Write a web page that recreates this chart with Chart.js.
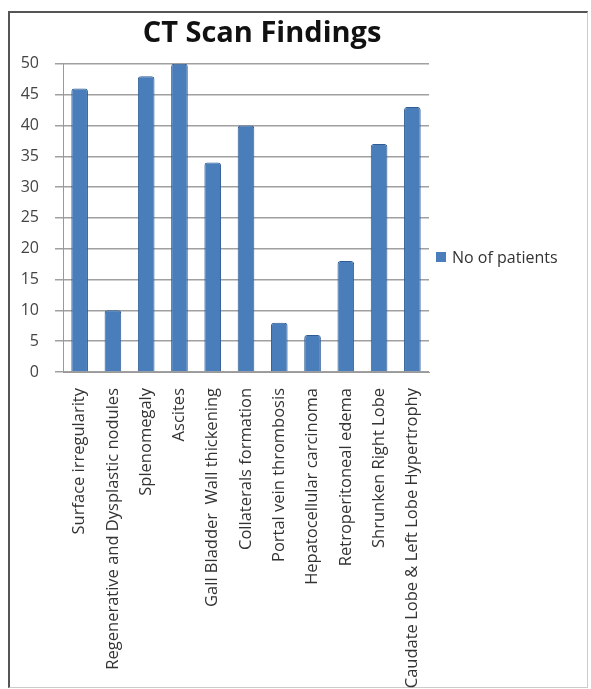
<!DOCTYPE html>
<html>
<head>
<meta charset="utf-8">
<script src="https://cdn.jsdelivr.net/npm/chart.js@4.4.1/dist/chart.umd.min.js"></script>
<style>
    body { margin: 0; background: #fff; width: 591px; height: 689px; overflow: hidden; position: relative; font-family: "Open Sans", sans-serif; }
    #frame {
        position: absolute; left: 8px; top: 11px; width: 577px; height: 674px;
        border-left: 2px solid #555; border-top: 2px solid #555;
        border-right: 1px solid #ccc; border-bottom: 1px solid #ccc;
    }
    #wrap { position: absolute; left: 10px; top: 13px; width: 504px; height: 676px; }
    #legend { position: absolute; left: 436px; top: 246px; font-size: 16px; color: #333; display: flex; align-items: center; }
    #legend span.box { display: inline-block; width: 10px; height: 10px; background: #4a7ebb; margin-right: 6px; }
</style>
</head>
<body>
<div id="frame"></div>
<div id="wrap"><canvas id="ctChart"></canvas></div>
<div id="legend"><span class="box"></span>No of patients</div>
<script>
// ─── data ─────────────────────────────────────────────
const categories = [
    'Surface irregularity',
    'Regenerative and Dysplastic nodules',
    'Splenomegaly',
    'Ascites',
    'Gall Bladder  Wall thickening',
    'Collaterals formation',
    'Portal vein thrombosis',
    'Hepatocellular carcinoma',
    'Retroperitoneal edema',
    'Shrunken Right Lobe',
    'Caudate Lobe & Left Lobe Hypertrophy'
];
const patients = [46, 10, 48, 50, 34, 40, 8, 6, 18, 37, 43];
const yTicks = [0, 5, 10, 15, 20, 25, 30, 35, 40, 45, 50];

const ctx = document.getElementById('ctChart').getContext('2d');

// title spans the whole canvas, not just the padded area
const titleSpan = {
    id: 'titleSpan',
    afterLayout(chart) {
        if (chart.titleBlock) {
            chart.titleBlock.left = 0;
            chart.titleBlock.right = chart.width;
        }
    }
};

new Chart(ctx, {
    type: 'bar',
    data: {
        labels: categories,
        datasets: [{
            label: 'No of patients',
            data: patients,
            backgroundColor: '#4a7ebb',
            borderColor: '#2f5c94',
            borderWidth: 1,
            borderRadius: { topLeft: 3, topRight: 3 },
            borderSkipped: 'bottom',
            barPercentage: 0.5,
            categoryPercentage: 1
        }]
    },
    options: {
        responsive: true,
        maintainAspectRatio: false,
        animation: false,
        layout: { padding: { left: 8, right: 85, top: 0, bottom: 0 } },
        plugins: {
            legend: { display: false }, // html legend instead
            tooltip: { enabled: false },
            title: {
                display: true,
                text: 'CT Scan Findings',
                color: '#111',
                font: { family: 'Open Sans', size: 29, weight: 'bold' },
                padding: { top: 3, bottom: 13 }
            }
        },
        scales: {
            x: {
                grid: { display: false, drawTicks: true, tickLength: 6 },
                border: { color: '#999', width: 1 },
                ticks: {
                    color: '#333',
                    font: { family: 'Open Sans', size: 16.5 },
                    minRotation: 90,
                    maxRotation: 90,
                    autoSkip: false,
                    padding: 10
                },
                afterFit: (scale) => { scale.height = 317; }
            },
            y: {
                min: 0,
                max: 50,
                afterBuildTicks: (scale) => { scale.ticks = yTicks.map(v => ({ value: v })); },
                grid: { color: '#a0a0a0', lineWidth: 1.5, tickLength: 8 },
                border: { color: '#999', width: 1 },
                ticks: {
                    color: '#444',
                    font: { family: 'Open Sans', size: 16 },
                    padding: 16
                },
                afterFit: (scale) => { scale.width = 45; }
            }
        }
    },
    plugins: [titleSpan]
});
</script>
</body>
</html>
